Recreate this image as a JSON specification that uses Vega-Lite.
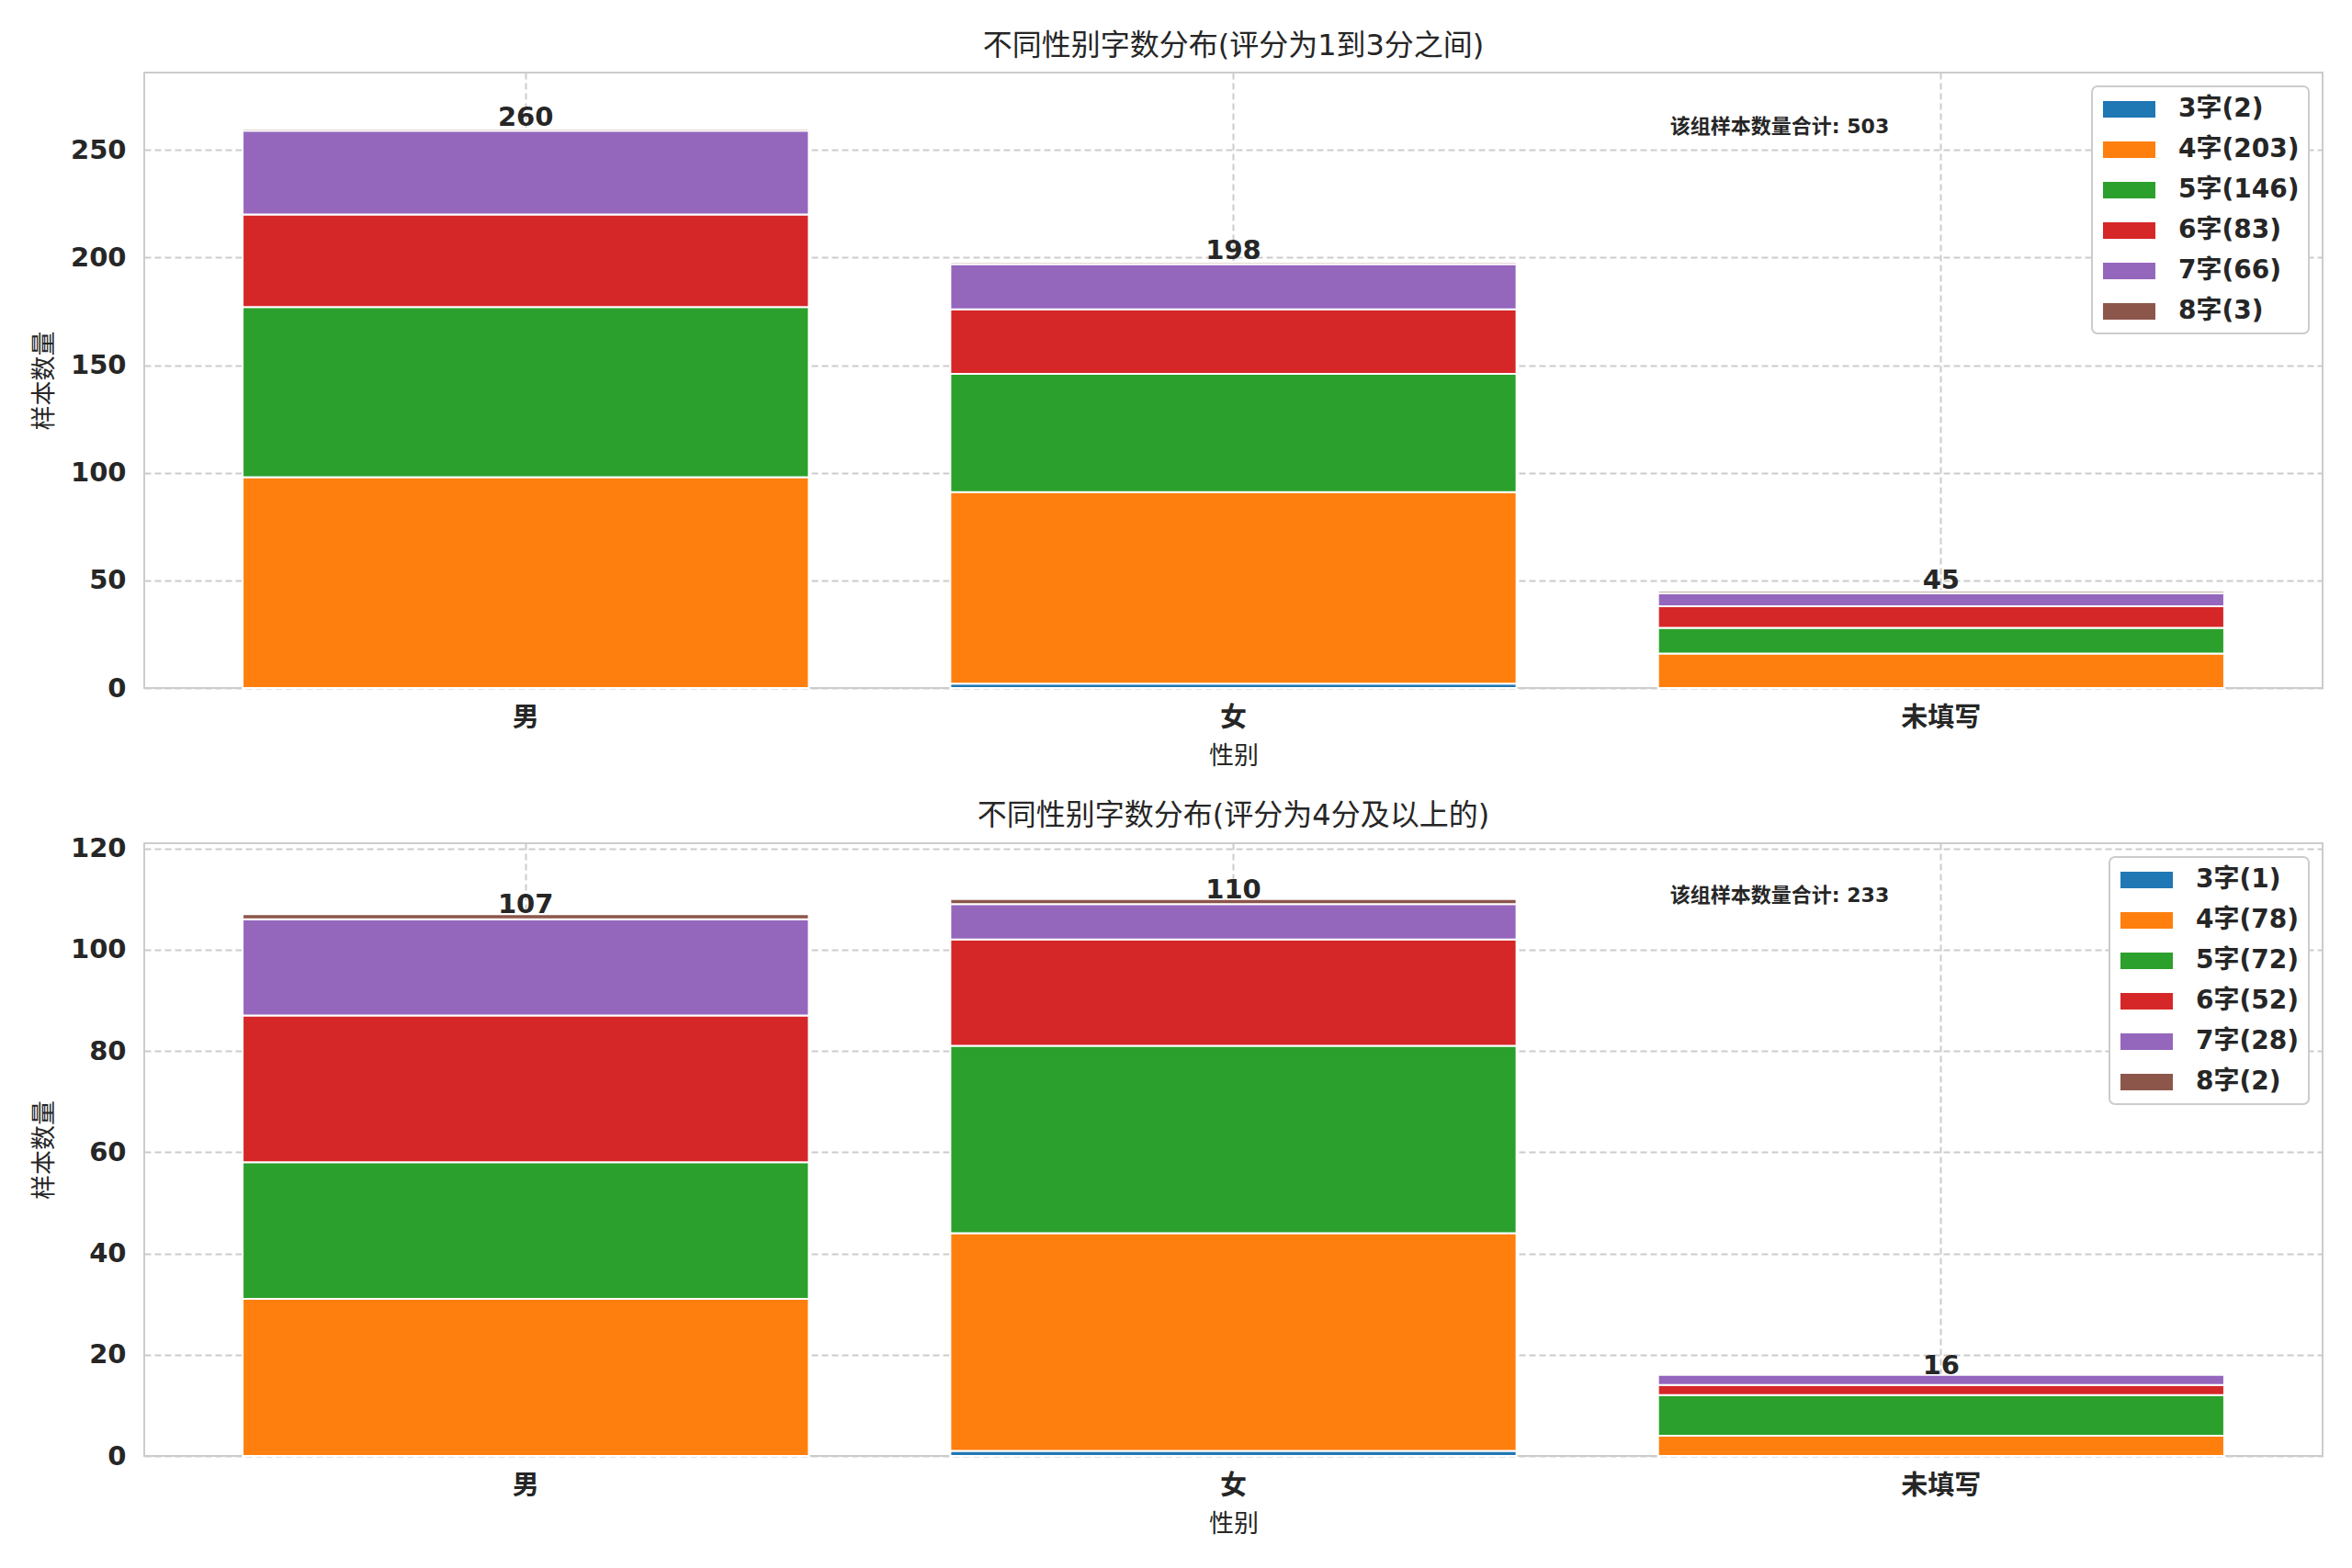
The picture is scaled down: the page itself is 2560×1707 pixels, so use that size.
{
  "$schema": "https://vega.github.io/schema/vega-lite/v6.json",
  "padding": {"left": 33, "top": 33, "right": 20, "bottom": 20},
  "background": "white",
  "datasets": {
    "top": [
      {"gender": "男", "k": 4, "series": "4字(203)", "count": 98},
      {"gender": "男", "k": 5, "series": "5字(146)", "count": 79},
      {"gender": "男", "k": 6, "series": "6字(83)", "count": 43},
      {"gender": "男", "k": 7, "series": "7字(66)", "count": 39},
      {"gender": "男", "k": 8, "series": "8字(3)", "count": 1},
      {"gender": "女", "k": 3, "series": "3字(2)", "count": 2},
      {"gender": "女", "k": 4, "series": "4字(203)", "count": 89},
      {"gender": "女", "k": 5, "series": "5字(146)", "count": 55},
      {"gender": "女", "k": 6, "series": "6字(83)", "count": 30},
      {"gender": "女", "k": 7, "series": "7字(66)", "count": 21},
      {"gender": "女", "k": 8, "series": "8字(3)", "count": 1},
      {"gender": "未填写", "k": 4, "series": "4字(203)", "count": 16},
      {"gender": "未填写", "k": 5, "series": "5字(146)", "count": 12},
      {"gender": "未填写", "k": 6, "series": "6字(83)", "count": 10},
      {"gender": "未填写", "k": 7, "series": "7字(66)", "count": 6},
      {"gender": "未填写", "k": 8, "series": "8字(3)", "count": 1}
    ],
    "bottom": [
      {"gender": "男", "k": 4, "series": "4字(78)", "count": 31},
      {"gender": "男", "k": 5, "series": "5字(72)", "count": 27},
      {"gender": "男", "k": 6, "series": "6字(52)", "count": 29},
      {"gender": "男", "k": 7, "series": "7字(28)", "count": 19},
      {"gender": "男", "k": 8, "series": "8字(2)", "count": 1},
      {"gender": "女", "k": 3, "series": "3字(1)", "count": 1},
      {"gender": "女", "k": 4, "series": "4字(78)", "count": 43},
      {"gender": "女", "k": 5, "series": "5字(72)", "count": 37},
      {"gender": "女", "k": 6, "series": "6字(52)", "count": 21},
      {"gender": "女", "k": 7, "series": "7字(28)", "count": 7},
      {"gender": "女", "k": 8, "series": "8字(2)", "count": 1},
      {"gender": "未填写", "k": 4, "series": "4字(78)", "count": 4},
      {"gender": "未填写", "k": 5, "series": "5字(72)", "count": 8},
      {"gender": "未填写", "k": 6, "series": "6字(52)", "count": 2},
      {"gender": "未填写", "k": 7, "series": "7字(28)", "count": 2}
    ],
    "noteTop": [{"gender": "未填写", "pos": 261, "note": "该组样本数量合计: 503"}],
    "noteBottom": [{"gender": "未填写", "pos": 110.7, "note": "该组样本数量合计: 233"}]
  },
  "vconcat": [
    {
      "width": 2371,
      "height": 670,
      "title": {"text": "不同性别字数分布(评分为1到3分之间)", "offset": 12},
      "layer": [
        {
          "data": {"name": "top"},
          "mark": {"type": "bar", "stroke": "white", "strokeWidth": 2},
          "encoding": {
            "x": {"field": "gender", "type": "nominal", "sort": ["男", "女", "未填写"],
                  "scale": {"paddingInner": 0.2, "paddingOuter": 0.139},
                  "axis": {"title": "性别", "labelAngle": 0}},
            "y": {"field": "count", "type": "quantitative", "aggregate": "sum", "stack": "zero",
                  "scale": {"domain": [0, 286], "nice": false},
                  "axis": {"title": "样本数量", "values": [0, 50, 100, 150, 200, 250]}},
            "color": {"field": "series", "type": "nominal",
                      "scale": {"domain": ["3字(2)", "4字(203)", "5字(146)", "6字(83)", "7字(66)", "8字(3)"],
                                "range": ["#1f77b4", "#ff7f0e", "#2ca02c", "#d62728", "#9467bd", "#8c564b"]},
                      "legend": {"title": null}},
            "order": {"field": "k", "type": "quantitative", "sort": "ascending"}
          }
        },
        {
          "data": {"name": "top"},
          "transform": [{"aggregate": [{"op": "sum", "field": "count", "as": "total"}], "groupby": ["gender"]}],
          "mark": {"type": "text", "baseline": "alphabetic", "dy": -3, "fontSize": 29, "fontWeight": "bold", "color": "#262626"},
          "encoding": {
            "x": {"field": "gender", "type": "nominal", "sort": ["男", "女", "未填写"]},
            "y": {"field": "total", "type": "quantitative"},
            "text": {"field": "total", "type": "quantitative"}
          }
        },
        {
          "data": {"name": "noteTop"},
          "mark": {"type": "text", "align": "left", "baseline": "middle", "dx": -295, "fontSize": 22, "fontWeight": "bold", "color": "#262626"},
          "encoding": {
            "x": {"field": "gender", "type": "nominal", "sort": ["男", "女", "未填写"]},
            "y": {"field": "pos", "type": "quantitative"},
            "text": {"field": "note", "type": "nominal"}
          }
        }
      ]
    },
    {
      "width": 2371,
      "height": 667,
      "title": {"text": "不同性别字数分布(评分为4分及以上的)", "offset": 5},
      "layer": [
        {
          "data": {"name": "bottom"},
          "mark": {"type": "bar", "stroke": "white", "strokeWidth": 2},
          "encoding": {
            "x": {"field": "gender", "type": "nominal", "sort": ["男", "女", "未填写"],
                  "scale": {"paddingInner": 0.2, "paddingOuter": 0.139},
                  "axis": {"title": "性别", "labelAngle": 0}},
            "y": {"field": "count", "type": "quantitative", "aggregate": "sum", "stack": "zero",
                  "scale": {"domain": [0, 121], "nice": false},
                  "axis": {"title": "样本数量", "values": [0, 20, 40, 60, 80, 100, 120]}},
            "color": {"field": "series", "type": "nominal",
                      "scale": {"domain": ["3字(1)", "4字(78)", "5字(72)", "6字(52)", "7字(28)", "8字(2)"],
                                "range": ["#1f77b4", "#ff7f0e", "#2ca02c", "#d62728", "#9467bd", "#8c564b"]},
                      "legend": {"title": null}},
            "order": {"field": "k", "type": "quantitative", "sort": "ascending"}
          }
        },
        {
          "data": {"name": "bottom"},
          "transform": [{"aggregate": [{"op": "sum", "field": "count", "as": "total"}], "groupby": ["gender"]}],
          "mark": {"type": "text", "baseline": "alphabetic", "dy": -1, "fontSize": 29, "fontWeight": "bold", "color": "#262626"},
          "encoding": {
            "x": {"field": "gender", "type": "nominal", "sort": ["男", "女", "未填写"]},
            "y": {"field": "total", "type": "quantitative"},
            "text": {"field": "total", "type": "quantitative"}
          }
        },
        {
          "data": {"name": "noteBottom"},
          "mark": {"type": "text", "align": "left", "baseline": "middle", "dx": -295, "fontSize": 22, "fontWeight": "bold", "color": "#262626"},
          "encoding": {
            "x": {"field": "gender", "type": "nominal", "sort": ["男", "女", "未填写"]},
            "y": {"field": "pos", "type": "quantitative"},
            "text": {"field": "note", "type": "nominal"}
          }
        }
      ]
    }
  ],
  "spacing": 33,
  "resolve": {"scale": {"color": "independent", "x": "independent", "y": "independent"}, "legend": {"color": "independent"}},
  "config": {
    "font": "DejaVu Sans, Noto Sans CJK SC",
    "view": {"stroke": "#cccccc", "strokeWidth": 2},
    "title": {"fontSize": 32, "fontWeight": "normal", "color": "#262626", "anchor": "middle"},
    "axis": {
      "labelFontSize": 29, "labelFontWeight": "bold", "labelColor": "#262626",
      "titleFontSize": 27, "titleFontWeight": "normal", "titleColor": "#262626",
      "grid": true, "gridColor": "#cccccc", "gridDash": [7, 4], "gridWidth": 2,
      "ticks": false, "domain": false, "labelPadding": 20, "titlePadding": 14
    },
    "axisX": {"bandPosition": 0.5, "labelPadding": 18, "titlePadding": 14},
    "legend": {
      "orient": "top-right", "offset": 15, "padding": 10,
      "fillColor": "white", "strokeColor": "#cccccc", "cornerRadius": 6, "strokeWidth": 2,
      "labelFontSize": 28, "labelFontWeight": "bold", "labelColor": "#262626",
      "symbolType": "M-0.867,-0.6L2.933,-0.6L2.933,0.6L-0.867,0.6Z", "symbolSize": 900, "symbolStrokeWidth": 0,
      "symbolOpacity": 1, "labelOffset": 54, "rowPadding": 15
    }
  }
}
